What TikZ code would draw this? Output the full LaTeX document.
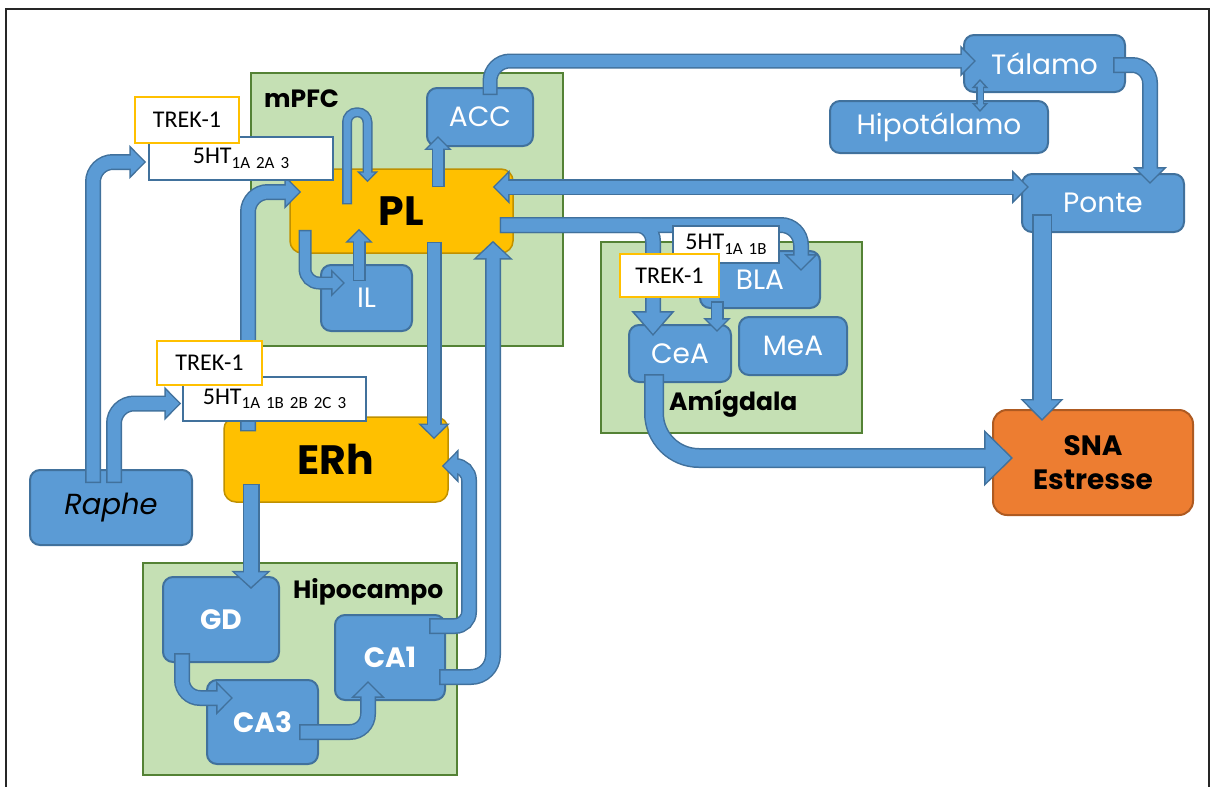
\documentclass[tikz,border=0pt]{standalone}
\usepackage{fontspec}
\setmainfont{Poppins}
\newfontfamily\labelfont{Carlito}
\usetikzlibrary{arrows.meta}

\definecolor{nodefill}{HTML}{5B9BD5}
\definecolor{nodeline}{HTML}{41719C}
\definecolor{regionfill}{HTML}{C5E0B4}
\definecolor{regionline}{HTML}{548235}
\definecolor{goldfill}{HTML}{FFC000}
\definecolor{goldline}{HTML}{BF9000}
\definecolor{snafill}{HTML}{ED7D31}
\definecolor{snaline}{HTML}{AE5A21}

\newcommand{\rsub}[1]{\raisebox{-4.5pt}{\fontsize{17}{17}\selectfont #1}}
\newcommand{\sgap}{\hspace{6pt}}

\tikzset{
  dims/.style 2 args={minimum width=#1pt, minimum height=#2pt, inner sep=0pt},
  region/.style={draw=regionline, fill=regionfill, line width=2pt},
  regionlabel/.style={font=\fontsize{25}{25}\selectfont\bfseries, anchor=west, inner sep=0pt},
  area/.style={draw=nodeline, fill=nodefill, line width=2pt, rounded corners=10pt,
    text=white, font=\fontsize{28}{28}\selectfont},
  field/.style={area, font=\fontsize{28}{28}\selectfont\bfseries},
  core/.style={area, fill=goldfill, draw=goldline, line width=1.5pt, rounded corners=12pt,
    text=black, font=\fontsize{41}{41}\selectfont\bfseries},
  stress/.style={area, fill=snafill, draw=snaline, rounded corners=14pt, text=black,
    align=center, font=\fontsize{28}{34}\selectfont\bfseries},
  receptor/.style={draw=nodeline, fill=white, line width=1.5pt,
    font=\labelfont\fontsize{24}{24}\selectfont},
  channel/.style={receptor, draw=goldfill, line width=2.5pt},
  edgeline/.style={draw=nodeline, line width=#1pt},
  bodyline/.style={draw=nodefill, line width=#1pt-3pt, shorten >=2.2pt, shorten <=1.5pt}
}

% band arrow: width, head length and width offsets, options, path
\newcommand{\band}[5]{%
  \draw[edgeline=#1, -{Triangle[length=#2pt 1.23, width=#3pt 2.33]}, #4] #5;
  \draw[bodyline=#1, -{Triangle[length=#2pt 1.23, width=#3pt 2.33]}, #4] #5;}
\newcommand{\dband}[5]{%
  \draw[edgeline=#1, {Triangle[length=#2pt 1.23, width=#3pt 2.33]}-{Triangle[length=#2pt 1.23, width=#3pt 2.33]}, #4] #5;
  \draw[bodyline=#1, shorten <=2.2pt, {Triangle[length=#2pt 1.23, width=#3pt 2.33]}-{Triangle[length=#2pt 1.23, width=#3pt 2.33]}, #4] #5;}

\begin{document}
\begin{tikzpicture}[x=1pt, y=-1pt]
\useasboundingbox (0,0) rectangle (1213,787);
\draw[line width=2pt, black!85] (6,800) -- (6,9) -- (1209,9) -- (1209,800);

% regions
\node[region, dims={312}{273}] (mpfc) at (407,209.5) {};
\node[region, dims={261}{191}] (amig) at (731.5,337.5) {};
\node[region, dims={314}{212}] (hipoc) at (300,669) {};
\node[regionlabel] (mpfctext) at (264,99) {mPFC};
\node[regionlabel] (amigtext) at (669,404) {Amígdala};
\node[regionlabel] (hipoctext) at (293,592) {Hipocampo};

% nodes
\node[area, dims={162}{75}, text=black, font=\fontsize{29}{29}\selectfont\itshape] (raphe) at (111,507.5) {Raphe};
\node[core, dims={223}{84}] (pl) at (401.5,211) {PL};
\node[core, dims={224}{85}] (erh) at (336,459.5) {ERh};
\node[area, dims={106}{58}] (acc) at (480,117) {ACC};
\node[area, dims={91}{66}] (il) at (366.5,298) {IL};
\node[field, dims={116}{85}] (gd) at (221,619.5) {GD};
\node[field, dims={111}{84}] (ca3) at (262.5,722) {CA3};
\node[field, dims={110}{85}] (ca1) at (390,657.5) {CA1};
\node[area, dims={161}{57}] (talamo) at (1044.5,63.5) {Tálamo};
\node[area, dims={218}{52}] (hipotal) at (939,127) {Hipotálamo};
\node[area, dims={162}{58}] (ponte) at (1103,203) {Ponte};
\node[area, dims={120}{57}] (bla) at (760,279.5) {BLA};
\node[area, dims={102}{57}] (cea) at (680,353.5) {CeA};
\node[area, dims={108}{58}] (mea) at (793,346) {MeA};
\node[stress, dims={200}{105}] (sna) at (1093,462.5) {SNA\\Estresse};

% cortex
\band{16}{-2.7}{-4.3}{rounded corners=20pt}{([xshift=-88pt,yshift=-15pt]erh.north) |- ([xshift=12pt,yshift=19pt]pl.west)}
\band{10}{-1.3}{-2.3}{rounded corners=10pt}{([xshift=-54.5pt,yshift=-36pt]pl.north) -- ++(0,-92) -| ([xshift=-34pt,yshift=-14pt]pl.north)}
\band{13}{-2}{-3.3}{}{([xshift=36.5pt,yshift=-19pt]pl.north) -- ([xshift=-42pt,yshift=11pt]acc.south)}
\band{13}{-2}{-3.3}{rounded corners=14pt}{([xshift=-96.5pt,yshift=24pt]pl.south) |- ([xshift=25pt,yshift=15pt]il.west)}
\band{13}{-2}{-3.3}{}{([xshift=-7.5pt,yshift=-17pt]il.north) -- ([xshift=-42.5pt,yshift=25pt]pl.south)}
\band{15}{-2.7}{-4.3}{}{([xshift=32.5pt,yshift=12pt]pl.south) -- ([xshift=98pt,yshift=-23pt]erh.north)}

% hippocampus
\band{16}{-0.7}{1.7}{rounded corners=22pt}{([xshift=-7pt,yshift=-19.5pt]ca1.east) -| ([xshift=91.5pt,yshift=13pt]pl.south)}
\band{16}{-2.7}{-4.3}{rounded corners=14pt}{([xshift=-17pt,yshift=31.5pt]ca1.east) -- ++(40,0) |- ([xshift=-7pt,yshift=-6.5pt]erh.east)}
\band{17}{-2.9}{-1.6}{}{([xshift=-85pt,yshift=19pt]erh.south) -- ([xshift=30pt,yshift=-13pt]gd.north)}
\band{16}{-2.7}{-4.3}{rounded corners=18pt}{([xshift=-39pt,yshift=10pt]gd.south) |- ([xshift=27pt,yshift=24pt]ca3.west)}
\band{16}{-2.7}{-4.3}{rounded corners=18pt}{([xshift=-20pt,yshift=-10pt]ca3.east) -| ([xshift=-22pt,yshift=20pt]ca1.south)}

% thalamus, pons
\band{15}{-2.7}{-4.3}{rounded corners=20pt}{([xshift=10pt,yshift=-8pt]acc.north) |- ([xshift=13pt,yshift=2.5pt]talamo.west)}
\dband{8}{-0.84}{-2.64}{}{([xshift=-64.5pt,yshift=14pt]talamo.south) -- ([xshift=41pt,yshift=-12pt]hipotal.north)}
\band{16}{-2.7}{-4.3}{rounded corners=18pt}{([xshift=-13pt,yshift=-1.5pt]talamo.east) -| ([xshift=47pt,yshift=-11pt]ponte.north)}
\dband{16}{-2.7}{-4.3}{}{([xshift=-21pt,yshift=24pt]pl.east) -- ([xshift=8pt,yshift=16pt]ponte.west)}

% amygdala
\draw[edgeline=16, -{Triangle[length=5.3pt 1.23, width=4.7pt 2.33]}, rounded corners=16pt] ([xshift=-14pt,yshift=-14pt]pl.east) -| ([xshift=-27pt,yshift=-12pt]cea.north);
\draw[edgeline=16, -{Triangle[length=-2.7pt 1.23, width=-4.3pt 2.33]}, rounded corners=20pt] ([xshift=-14pt,yshift=-14pt]pl.east) -| ([xshift=41pt,yshift=-21pt]bla.north);
\draw[bodyline=16, -{Triangle[length=5.3pt 1.23, width=4.7pt 2.33]}, rounded corners=16pt] ([xshift=-14pt,yshift=-14pt]pl.east) -| ([xshift=-27pt,yshift=-12pt]cea.north);
\draw[bodyline=16, -{Triangle[length=-2.7pt 1.23, width=-4.3pt 2.33]}, rounded corners=20pt] ([xshift=-14pt,yshift=-14pt]pl.east) -| ([xshift=41pt,yshift=-21pt]bla.north);
\band{13}{-2}{-3.3}{}{([xshift=-43pt,yshift=8pt]bla.south) -- ([xshift=37pt,yshift=-8pt]cea.north)}
\band{20}{4.4}{8.4}{rounded corners=45pt}{([xshift=-26pt,yshift=9pt]cea.south) |- ([xshift=21pt,yshift=4.5pt]sna.west)}
\band{20}{-2.6}{-4.6}{}{([xshift=-61pt,yshift=19pt]ponte.south) -- ([xshift=-51pt,yshift=-12pt]sna.north)}

% receptors and channels
\node[receptor, dims={184}{43}] (ht1) at (241,158.5) {5HT\rsub{1A\sgap 2A\sgap 3}};
\node[channel, dims={104}{46}] (trek1) at (187,120) {TREK-1};
\node[receptor, dims={183}{44}] (ht2) at (274.5,399) {5HT\rsub{1A\sgap 1B\sgap 2B\sgap 2C\sgap 3}};
\node[channel, dims={105}{44}] (trek2) at (209.5,363) {TREK-1};
\node[receptor, dims={106}{37}] (ht3) at (726,244.5) {5HT\rsub{1A\sgap 1B}};
\node[channel, dims={99}{43}] (trek3) at (669.5,275.5) {TREK-1};

% raphe projections
\band{16}{-2.7}{-4.3}{rounded corners=20pt}{([xshift=-18pt,yshift=-14pt]raphe.north) |- ([xshift=-2pt,yshift=-3.5pt]ht1.west)}
\band{16}{-2.7}{-4.3}{rounded corners=20pt}{([xshift=3pt,yshift=-14pt]raphe.north) |- ([xshift=-1pt,yshift=-4.5pt]ht2.west)}
\end{tikzpicture}
\end{document}
